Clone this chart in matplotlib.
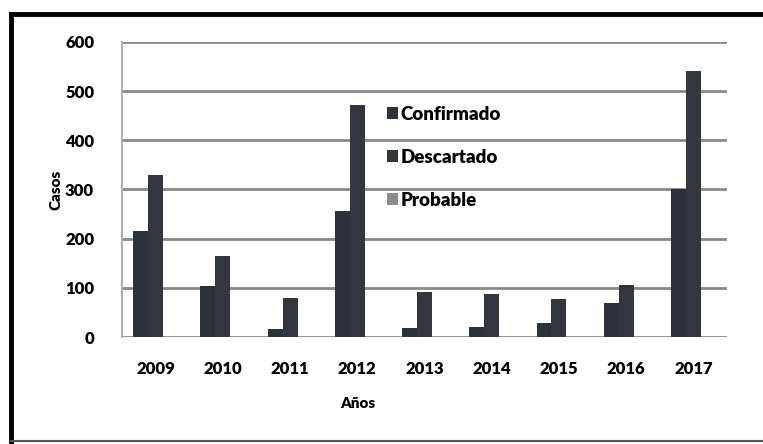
import matplotlib
matplotlib.use("Agg")
import matplotlib.pyplot as plt
import numpy as np
from matplotlib.lines import Line2D

years = ["2009", "2010", "2011", "2012", "2013", "2014", "2015", "2016", "2017"]
confirmado = [216, 103, 16, 257, 18, 20, 29, 70, 300]
descartado = [329, 164, 80, 472, 92, 88, 78, 105, 542]
probable = [0, 0, 0, 0, 0, 0, 0, 0, 0]
series_names = ["Confirmado", "Descartado", "Probable"]
y_ticks = [0, 100, 200, 300, 400, 500, 600]

plt.rcParams['font.family'] = ['Lato', 'DejaVu Sans']
plt.rcParams['font.weight'] = 'heavy'

W, H = 763, 444
fig = plt.figure(figsize=(W / 100, H / 100), dpi=100)
fig.patch.set_facecolor('white')

ax = fig.add_axes([122 / W, 1 - 337 / H, (727 - 122) / W, (337 - 42) / H])

x = np.arange(len(years))
w = 0.222
c_dark = '#2d313b'
c_dark2 = '#33363f'
c_gray = '#8c8c8c'
ax.bar(x - w, confirmado, w, color=c_dark, label=series_names[0], zorder=3)
ax.bar(x, descartado, w, color=c_dark2, label=series_names[1], zorder=3)
ax.bar(x + w, probable, w, color=c_gray, label=series_names[2], zorder=3)

ax.set_xlim(-0.5, len(years) - 0.5)
ax.set_ylim(0, 600)
ax.set_yticks(y_ticks)
ax.set_yticklabels([str(v) for v in y_ticks], fontsize=12, fontweight='heavy')
ax.set_xticks(x)
ax.set_xticklabels(years, fontsize=12, fontweight='heavy')
ax.tick_params(axis='both', length=0)
ax.tick_params(axis='y', pad=20)
ax.tick_params(axis='x', pad=17)

ax.grid(axis='y', color='#8a8a8a', linewidth=2.0, zorder=0)
for s in ['top', 'right', 'bottom']:
    ax.spines[s].set_visible(False)
ax.spines['left'].set_color('#b0b0b0')
ax.spines['left'].set_linewidth(1.5)

ax.set_ylabel("Casos", fontsize=11, fontweight='heavy', labelpad=2)
fig.text(358 / W, 1 - 403 / H, "Años", fontsize=11, fontweight='heavy',
         ha='center', va='center')

leg = ax.legend(loc='upper left', bbox_to_anchor=(0.425, 0.81),
                frameon=False, fontsize=13.5, handlelength=0.6, handleheight=0.6,
                handletextpad=0.15, labelspacing=1.4, borderaxespad=0)
for t in leg.get_texts():
    t.set_fontweight('heavy')

# outer frame of the scanned chart
fig.add_artist(Line2D([11 / W, 11 / W], [0, 1 - 14 / H], color='black', linewidth=3.5,
                      transform=fig.transFigure))
fig.add_artist(Line2D([11 / W, 1], [1 - 14 / H, 1 - 14 / H], color='black', linewidth=3.5,
                      transform=fig.transFigure))
fig.add_artist(Line2D([11 / W, 1], [1 - 441 / H, 1 - 441 / H], color='#555555', linewidth=1.5,
                      transform=fig.transFigure))

fig.savefig("out.png", dpi=100)
